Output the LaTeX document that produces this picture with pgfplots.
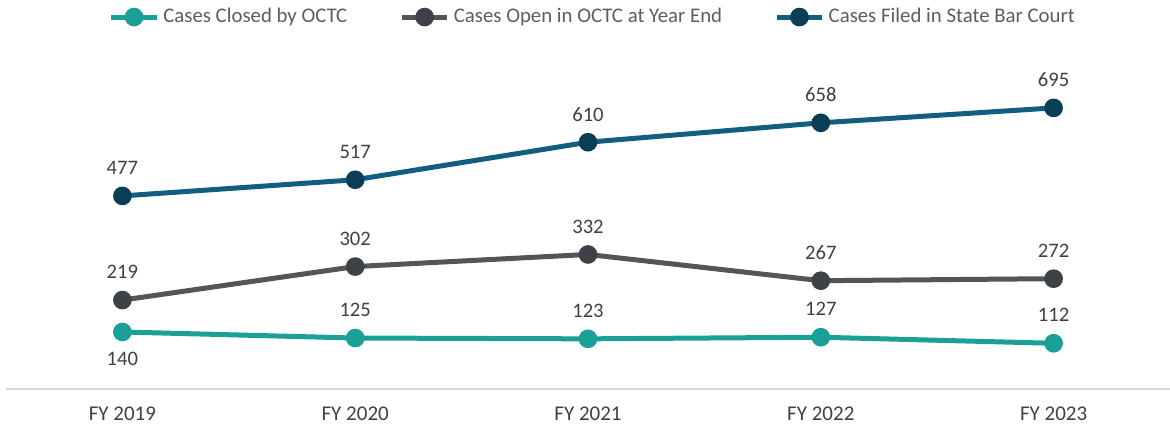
\documentclass[border=0pt]{standalone}
\usepackage{pgfplots}
\pgfplotsset{compat=1.18}
\usepackage{fontspec}
\setmainfont{Carlito}
\definecolor{cteal}{RGB}{26,160,150}
\definecolor{cteald}{RGB}{20,140,132}
\definecolor{cgrey}{RGB}{82,86,90}
\definecolor{cgreyd}{RGB}{62,66,70}
\definecolor{cblue}{RGB}{18,94,126}
\definecolor{cblued}{RGB}{10,62,86}
\definecolor{ctxt}{RGB}{64,64,64}
\definecolor{caxis}{RGB}{217,217,217}
\begin{document}
\begin{tikzpicture}
\path[use as bounding box] (-3pt,-19.75pt) rectangle (582pt,194.25pt);
\begin{axis}[
  at={(0,0)}, anchor=south west,
  scale only axis, width=582pt, height=161.5pt,
  xmin=-0.5, xmax=4.5, ymin=0, ymax=800,
  axis x line=bottom, axis y line=none,
  axis line style={caxis, line width=1pt, -},
  xtick={0,1,2,3,4},
  xticklabels={FY 2019,FY 2020,FY 2021,FY 2022,FY 2023},
  major tick length=0pt,
  xticklabel style={font=\fontsize{10.5}{12}\selectfont, text=ctxt, yshift=-5.5pt},
  ytick=\empty,
  clip=false,
  /pgf/number format/assume math mode=true,
  legend columns=3,
  legend style={draw=none, fill=none, at={(0.505,1.150)}, anchor=center,
    font=\fontsize{10.4}{12}\selectfont, text=ctxt!85!white,
    /tikz/every even column/.append style={column sep=24pt}},
  legend image code/.code={
    \draw[mark repeat=2, mark phase=2, #1] plot coordinates {(0cm,0cm) (0.4cm,0cm) (0.8cm,0cm)};
  },
  every node near coord/.append style={font=\fontsize{10.3}{12}\selectfont, text=ctxt, anchor=center},
]
\addplot[cteal, line width=2.5pt, mark=*, mark size=3.4pt, mark options={fill=cteal, draw=cteal}]
  coordinates {(0,140) (1,125) (2,123) (3,127) (4,112)};
\addlegendentry{Cases Closed by OCTC}
\addplot[cgrey, line width=2.5pt, mark=*, mark size=3.4pt, mark options={fill=cgreyd, draw=cgreyd}]
  coordinates {(0,219) (1,302) (2,332) (3,267) (4,272)};
\addlegendentry{Cases Open in OCTC at Year End}
\addplot[cblue, line width=2.5pt, mark=*, mark size=3.4pt, mark options={fill=cblued, draw=cblued}]
  coordinates {(0,477) (1,517) (2,610) (3,658) (4,695)};
\addlegendentry{Cases Filed in State Bar Court}
% data labels
\addplot[draw=none, mark=none, nodes near coords, every node near coord/.append style={yshift=14pt}, forget plot]
  coordinates {(1,125) (2,123) (3,127) (4,112)};
\addplot[draw=none, mark=none, nodes near coords, every node near coord/.append style={yshift=-13.5pt}, forget plot]
  coordinates {(0,140)};
\addplot[draw=none, mark=none, nodes near coords, every node near coord/.append style={yshift=14pt}, forget plot]
  coordinates {(0,219) (1,302) (2,332) (3,267) (4,272)};
\addplot[draw=none, mark=none, nodes near coords, every node near coord/.append style={yshift=14pt}, forget plot]
  coordinates {(0,477) (1,517) (2,610) (3,658) (4,695)};
\end{axis}
\end{tikzpicture}
\end{document}
